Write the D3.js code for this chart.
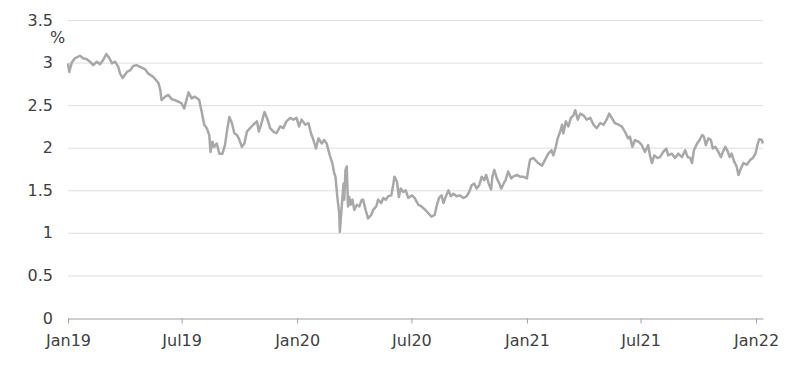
<!DOCTYPE html>
<html>
<head>
<meta charset="utf-8">
<script src="https://cdn.jsdelivr.net/npm/d3@7"></script>
<style>
  html, body { margin: 0; padding: 0; background: #fff; }
  svg { display: block; }
  text { font-family: "DejaVu Sans", "Noto Sans", sans-serif; }
</style>
</head>
<body>
<svg id="chart" width="800" height="368"></svg>
<script>
// ---- Data ----
const dates = [
"2019-01-01","2019-01-03","2019-01-07","2019-01-12","2019-01-20","2019-01-25","2019-01-31","2019-02-05","2019-02-10","2019-02-16",
"2019-02-21","2019-02-26","2019-03-03","2019-03-08","2019-03-12","2019-03-17","2019-03-22","2019-03-25","2019-03-29","2019-04-05",
"2019-04-10","2019-04-15","2019-04-20","2019-04-26","2019-05-04","2019-05-09","2019-05-17","2019-05-25","2019-05-28","2019-05-30",
"2019-06-05","2019-06-10","2019-06-15","2019-06-20","2019-06-26","2019-07-01","2019-07-05","2019-07-12","2019-07-17","2019-07-22",
"2019-07-29","2019-08-02","2019-08-06","2019-08-10","2019-08-14","2019-08-16","2019-08-19","2019-08-22","2019-08-26","2019-08-30",
"2019-09-04","2019-09-08","2019-09-12","2019-09-15","2019-09-19","2019-09-23","2019-09-27","2019-09-30","2019-10-05","2019-10-09",
"2019-10-13","2019-10-18","2019-10-23","2019-10-29","2019-11-01","2019-11-06","2019-11-10","2019-11-14","2019-11-19","2019-11-24",
"2019-11-29","2019-12-05","2019-12-10","2019-12-15","2019-12-21","2019-12-26","2019-12-31","2020-01-04","2020-01-08","2020-01-14",
"2020-01-19","2020-01-23","2020-01-27","2020-01-31","2020-02-04","2020-02-09","2020-02-13","2020-02-17","2020-02-22","2020-02-26",
"2020-02-29","2020-03-02","2020-03-05","2020-03-08","2020-03-09","2020-03-12","2020-03-15","2020-03-16","2020-03-18","2020-03-20",
"2020-03-22","2020-03-24","2020-03-26","2020-03-29","2020-04-01","2020-04-05","2020-04-09","2020-04-13","2020-04-15","2020-04-19",
"2020-04-23","2020-04-28","2020-05-01","2020-05-06","2020-05-09","2020-05-14","2020-05-17","2020-05-21","2020-05-25","2020-05-30",
"2020-06-01","2020-06-04","2020-06-08","2020-06-11","2020-06-14","2020-06-18","2020-06-22","2020-06-26","2020-07-02","2020-07-06",
"2020-07-12","2020-07-17","2020-07-23","2020-07-28","2020-08-02","2020-08-07","2020-08-10","2020-08-14","2020-08-18","2020-08-21",
"2020-08-25","2020-08-29","2020-09-02","2020-09-06","2020-09-11","2020-09-16","2020-09-22","2020-09-27","2020-10-01","2020-10-05",
"2020-10-09","2020-10-13","2020-10-17","2020-10-21","2020-10-25","2020-10-28","2020-11-01","2020-11-05","2020-11-07","2020-11-10",
"2020-11-14","2020-11-18","2020-11-21","2020-11-25","2020-11-28","2020-12-02","2020-12-07","2020-12-10","2020-12-16","2020-12-21",
"2020-12-26","2021-01-01","2021-01-03","2021-01-06","2021-01-11","2021-01-19","2021-01-25","2021-01-30","2021-02-04","2021-02-09",
"2021-02-12","2021-02-16","2021-02-19","2021-02-23","2021-02-26","2021-02-28","2021-03-04","2021-03-08","2021-03-12","2021-03-16",
"2021-03-19","2021-03-23","2021-03-27","2021-04-01","2021-04-06","2021-04-12","2021-04-17","2021-04-22","2021-04-28","2021-05-03",
"2021-05-08","2021-05-12","2021-05-16","2021-05-21","2021-05-27","2021-06-01","2021-06-06","2021-06-11","2021-06-14","2021-06-18",
"2021-06-22","2021-06-28","2021-07-03","2021-07-08","2021-07-13","2021-07-16","2021-07-19","2021-07-23","2021-07-28","2021-08-01",
"2021-08-06","2021-08-11","2021-08-14","2021-08-20","2021-08-25","2021-08-30","2021-09-05","2021-09-10","2021-09-14","2021-09-18",
"2021-09-21","2021-09-24","2021-09-29","2021-10-03","2021-10-07","2021-10-10","2021-10-13","2021-10-17","2021-10-21","2021-10-24",
"2021-10-28","2021-11-02","2021-11-06","2021-11-09","2021-11-13","2021-11-16","2021-11-20","2021-11-23","2021-11-27","2021-12-01",
"2021-12-04","2021-12-08","2021-12-12","2021-12-17","2021-12-23","2021-12-27","2021-12-31","2022-01-03","2022-01-06","2022-01-10",
"2022-01-12"
];
const values = [
2.99,2.89,3.00,3.05,3.08,3.05,3.04,3.01,2.97,3.01,
2.98,3.03,3.10,3.05,2.99,3.01,2.95,2.87,2.82,2.89,
2.91,2.96,2.97,2.95,2.92,2.87,2.83,2.76,2.68,2.56,
2.60,2.62,2.57,2.56,2.54,2.52,2.46,2.65,2.58,2.60,
2.56,2.42,2.27,2.23,2.15,1.95,2.07,2.01,2.05,1.93,
1.93,2.03,2.23,2.36,2.29,2.17,2.15,2.11,2.01,2.05,
2.19,2.23,2.27,2.31,2.19,2.31,2.42,2.35,2.23,2.19,
2.17,2.25,2.23,2.31,2.35,2.33,2.35,2.25,2.33,2.27,
2.29,2.17,2.09,1.99,2.11,2.05,2.09,2.05,1.91,1.82,
1.70,1.66,1.42,1.23,1.01,1.31,1.58,1.39,1.74,1.78,
1.31,1.42,1.33,1.39,1.27,1.33,1.31,1.39,1.39,1.27,
1.17,1.21,1.27,1.31,1.39,1.35,1.41,1.39,1.43,1.44,
1.52,1.66,1.60,1.42,1.52,1.48,1.50,1.41,1.44,1.41,
1.33,1.31,1.27,1.23,1.19,1.21,1.31,1.41,1.44,1.35,
1.43,1.50,1.43,1.46,1.43,1.44,1.41,1.43,1.48,1.56,
1.58,1.52,1.56,1.66,1.62,1.68,1.58,1.51,1.66,1.74,
1.64,1.58,1.52,1.58,1.62,1.72,1.64,1.66,1.68,1.66,
1.66,1.64,1.74,1.86,1.88,1.82,1.79,1.86,1.93,1.97,
1.91,2.01,2.11,2.19,2.27,2.17,2.31,2.25,2.35,2.38,
2.44,2.33,2.40,2.38,2.33,2.35,2.27,2.23,2.29,2.27,
2.33,2.40,2.35,2.29,2.27,2.25,2.19,2.11,2.13,2.01,
2.09,2.07,2.03,1.95,2.03,1.91,1.82,1.91,1.88,1.89,
1.95,1.99,1.91,1.93,1.88,1.93,1.89,1.97,1.89,1.88,
1.82,1.97,2.05,2.09,2.15,2.13,2.03,2.11,2.09,1.99,
2.01,1.95,1.89,1.95,2.01,1.97,1.89,1.93,1.84,1.78,
1.68,1.76,1.82,1.80,1.86,1.88,1.93,2.03,2.10,2.09,
2.05
];
const yTicks = [0, 0.5, 1, 1.5, 2, 2.5, 3, 3.5];
const xTickDates = ["2019-01-01","2019-07-01","2020-01-01","2020-07-01","2021-01-01","2021-07-01","2022-01-01"];
const xTickLabels = ["Jan19","Jul19","Jan20","Jul20","Jan21","Jul21","Jan22"];
const unitLabel = "%";
const domainStart = "2019-01-01";
const domainEnd = "2022-01-12";

// ---- Chart ----
const FONT = "\"DejaVu Sans\", \"Noto Sans\", sans-serif";
const TEXT_COLOR = "#404040";
const parse = d3.utcParse("%Y-%m-%d");
const data = dates.map((d, i) => ({ date: parse(d), value: values[i] }));

const svg = d3.select("#chart");
const margin = { left: 68, right: 37, top: 20, bottom: 50 };
const W = 800, H = 368;

const x = d3.scaleUtc()
  .domain([parse(domainStart), parse(domainEnd)])
  .range([margin.left, W - margin.right]);
const y = d3.scaleLinear()
  .domain([0, 3.5])
  .range([H - margin.bottom, margin.top]);

// gridlines
svg.append("g")
  .selectAll("line")
  .data(yTicks.filter(t => t > 0))
  .join("line")
  .attr("x1", margin.left).attr("x2", W - margin.right)
  .attr("y1", d => y(d) + 0.5).attr("y2", d => y(d) + 0.5)
  .attr("stroke", "#dedede").attr("stroke-width", 1);

// y labels
svg.append("g")
  .selectAll("text")
  .data(yTicks)
  .join("text")
  .attr("x", 53)
  .attr("y", d => y(d))
  .attr("dy", "0.35em")
  .attr("text-anchor", "end")
  .attr("font-size", 16)
  .attr("font-family", FONT)
  .attr("fill", TEXT_COLOR)
  .text(d => d3.format("~g")(d));

svg.append("text")
  .attr("x", 50).attr("y", 43)
  .attr("font-size", 16)
  .attr("font-family", FONT)
  .attr("fill", TEXT_COLOR)
  .text(unitLabel);

// x axis
const xAxis = d3.axisBottom(x)
  .tickValues(xTickDates.map(parse))
  .tickFormat((d, i) => xTickLabels[i])
  .tickSize(5)
  .tickSizeOuter(0)
  .tickPadding(11);

const gx = svg.append("g")
  .attr("transform", `translate(0,${y(0) + 0.5})`)
  .call(xAxis);
gx.select(".domain").attr("stroke", "#a0a0a0");
gx.selectAll(".tick line").attr("stroke", "#a0a0a0");
gx.selectAll(".tick text")
  .attr("font-size", 16)
  .attr("font-family", FONT)
  .attr("fill", TEXT_COLOR);

// line
const line = d3.line()
  .x(d => x(d.date))
  .y(d => y(d.value));

svg.append("path")
  .datum(data)
  .attr("fill", "none")
  .attr("stroke", "#a8a8a8")
  .attr("stroke-width", 2.5)
  .attr("stroke-linejoin", "round")
  .attr("d", line);
</script>
</body>
</html>
